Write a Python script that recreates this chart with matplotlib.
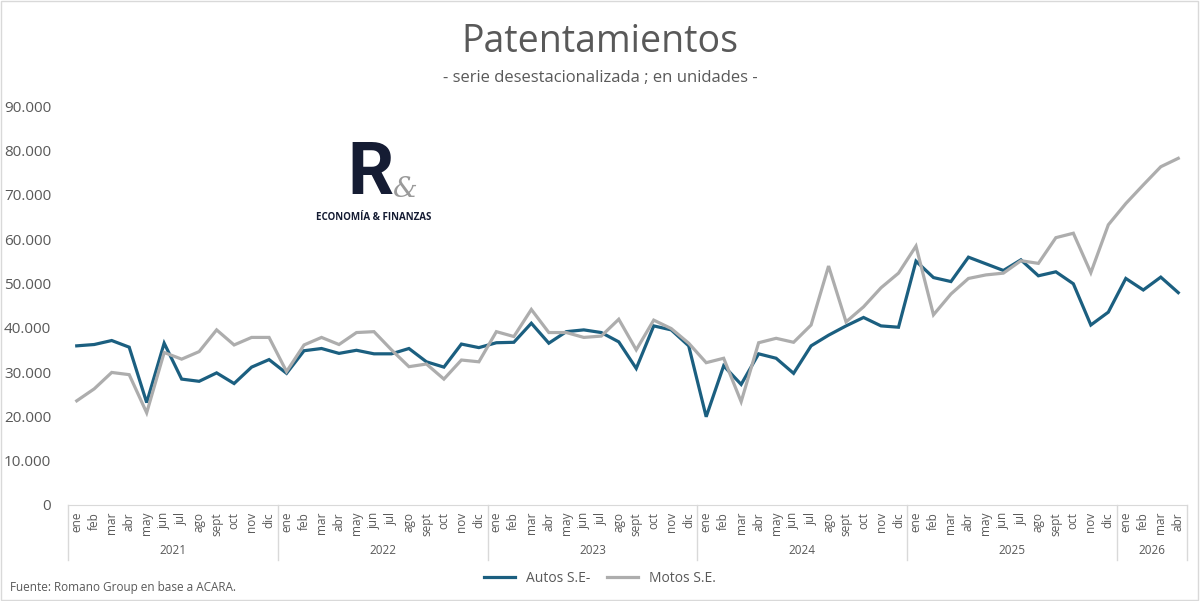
import matplotlib
matplotlib.use('Agg')
import matplotlib.pyplot as plt
from matplotlib.lines import Line2D
import matplotlib.transforms as mtransforms

plt.rcParams['font.family'] = ['Open Sans', 'DejaVu Sans']

# datos (ene 2021 - abr 2026)
years = ['2021', '2022', '2023', '2024', '2025', '2026']
month_names = ['ene', 'feb', 'mar', 'abr', 'may', 'jun', 'jul', 'ago', 'sept', 'oct', 'nov', 'dic']
months = month_names * 5 + month_names[:4]

autos = [35900, 36200, 37100, 35600, 23100, 36500, 28400, 27900, 29800, 27400, 31100, 32800,
         29700, 34800, 35300, 34200, 34900, 34100, 34100, 35300, 32300, 31100, 36300, 35500,
         36600, 36700, 41000, 36500, 39100, 39500, 38900, 36800, 30800, 40400, 39500, 35900,
         19900, 31400, 27200, 34100, 33100, 29700, 35900, 38300, 40400, 42300, 40400, 40100,
         55000, 51300, 50400, 55900, 54400, 52900, 55300, 51700, 52600, 49900, 40600, 43500,
         51100, 48500, 51400, 47900]
motos = [23500, 26200, 29900, 29400, 20800, 34400, 32900, 34600, 39500, 36100, 37800, 37800,
         30100, 36100, 37800, 36200, 38900, 39100, 35000, 31200, 31800, 28400, 32700, 32300,
         39100, 38000, 44100, 38900, 38900, 37800, 38100, 41900, 35000, 41700, 39800, 36500,
         32100, 33100, 23300, 36600, 37600, 36700, 40600, 53900, 41300, 44700, 49000, 52300,
         58400, 42900, 47600, 51100, 51900, 52300, 55100, 54500, 60300, 61300, 52400, 63200,
         68000, 72200, 76300, 78200]

blue = '#1b5f80'
gray = '#adadad'
txt = '#595959'
W, H = 1200, 601

fig = plt.figure(figsize=(12, 6.01), dpi=100)
fig.patches.append(plt.Rectangle((0.0005, 0.001), 0.998, 0.998, transform=fig.transFigure,
                                 fill=False, edgecolor='#d9d9d9', linewidth=1))

ax = fig.add_axes([68 / W, (H - 505) / H, (1187 - 68) / W, (505 - 106) / H])
x = list(range(len(months)))
ax.plot(x, autos, color=blue, linewidth=2.3, solid_joinstyle='miter')
ax.plot(x, motos, color=gray, linewidth=2.3, solid_joinstyle='miter')

ax.set_xlim(-0.5, len(months) - 0.5)
ax.set_ylim(0, 90000)
ax.set_yticks(range(0, 90001, 10000))
ax.set_yticklabels([f'{v:,}'.replace(',', '.') for v in range(0, 90001, 10000)])
ax.tick_params(axis='y', length=0, pad=12, labelsize=11, labelcolor=txt)
ax.set_xticks(x)
ax.set_xticklabels(months, rotation=90, fontsize=8.5, color=txt)
ax.tick_params(axis='x', length=0, pad=5)
for s in ['left', 'right', 'top']:
    ax.spines[s].set_visible(False)
ax.spines['bottom'].set_color('#d9d9d9')

# separadores de años y etiquetas de año
trans = mtransforms.blended_transform_factory(ax.transData, ax.transAxes)
depth = -(560 - 505) / (505 - 106)
ylab = -(551 - 505) / (505 - 106)
start = 0
for i, yr in enumerate(years):
    n = 12 if i < len(years) - 1 else len(months) - start
    ax.plot([start - 0.5, start - 0.5], [0, depth], transform=trans, color='#d9d9d9',
            linewidth=1, clip_on=False)
    ax.text(start - 0.5 + n / 2, ylab, yr, transform=trans, ha='center', va='center',
            fontsize=8.5, color=txt)
    start += n
ax.plot([start - 0.5, start - 0.5], [0, depth], transform=trans, color='#d9d9d9',
        linewidth=1, clip_on=False)

# títulos
fig.text(0.5, 1 - 42 / H, 'Patentamientos', ha='center', va='center', fontsize=27, color=txt)
fig.text(0.5, 1 - 78 / H, '- serie desestacionalizada ; en unidades -', ha='center',
         va='center', fontsize=12, color=txt)

# logo
fig.text(370 / W, 1 - 175 / H, 'R', ha='center', va='center', fontsize=52, fontweight='bold',
         color='#151c33', family='Roboto')
fig.text(405 / W, 1 - 190 / H, '&', ha='center', va='center', fontsize=20, color='#9a9a9a',
         family='DejaVu Serif', style='italic')
fig.text(374 / W, 1 - 218 / H, 'ECONOMÍA & FINANZAS', ha='center', va='center', fontsize=7,
         fontweight='bold', color='#151c33')

# leyenda
handles = [Line2D([], [], color=blue, linewidth=2.3), Line2D([], [], color=gray, linewidth=2.3)]
fig.legend(handles, ['Autos S.E-', 'Motos S.E.'], loc='center', bbox_to_anchor=(0.5, 1 - 578 / H),
           ncol=2, frameon=False, fontsize=10, labelcolor=txt, handlelength=2.2, columnspacing=1.2)

fig.text(10 / W, 1 - 588 / H, 'Fuente: Romano Group en base a ACARA.', ha='left', va='center',
         fontsize=8.5, color=txt)

plt.savefig('out.png', dpi=100)
